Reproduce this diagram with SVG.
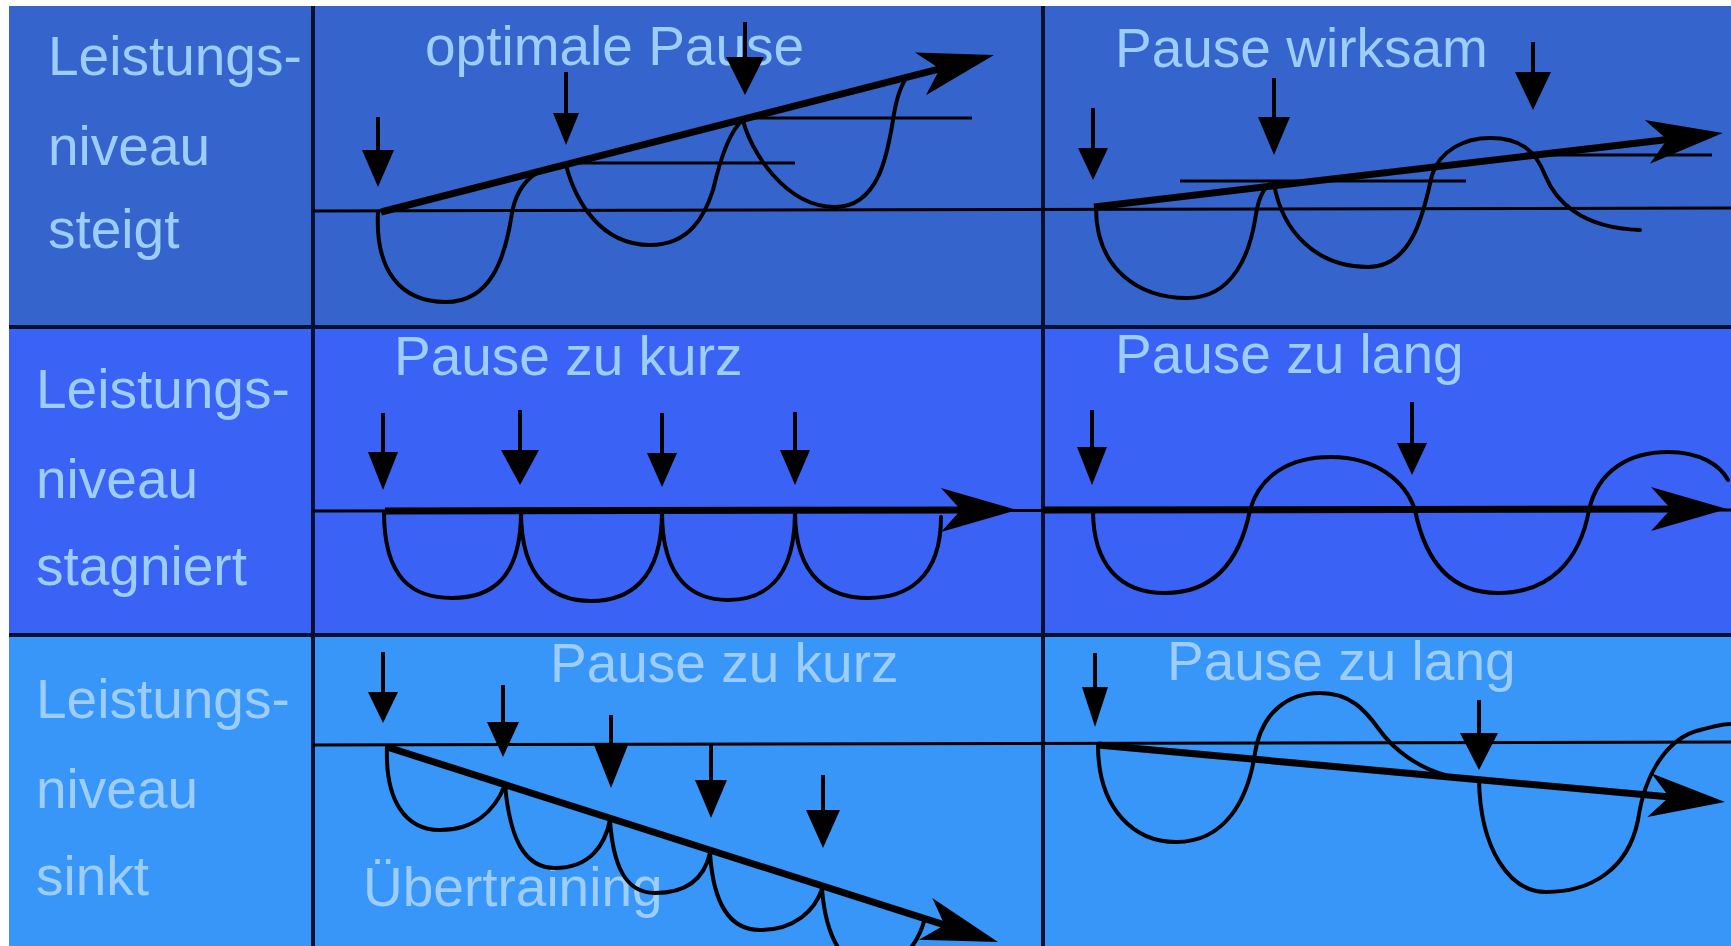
<svg xmlns="http://www.w3.org/2000/svg" width="1731" height="946" viewBox="0 0 1731 946">
<defs>
<marker id="dart" markerUnits="userSpaceOnUse" viewBox="-80 -26 84 52" markerWidth="84" markerHeight="52" refX="-30" refY="0" orient="auto">
<path d="M0,0 L-76,-22 L-56,0 L-76,22 Z" fill="#000"/>
</marker>
</defs>
<style>
.lbl{font-family:"Liberation Sans",Arial,sans-serif;font-size:55px;fill:#9ccdfb}
.div{stroke:#0a1030;stroke-width:4;fill:none}
.base{stroke:#000;stroke-width:3;fill:none}
.trend{stroke:#000;stroke-width:7;fill:none;marker-end:url(#dart)}
.curve{stroke:#000;stroke-width:4;fill:none;stroke-linecap:round}
.shaft{stroke:#000;stroke-width:4}
.head{fill:#000}
</style>
<rect width="1731" height="946" fill="#fff"/>
<g id="rows">
<rect x="9" y="6" width="1722" height="321" fill="#3565cc"/>
<rect x="9" y="327" width="1722" height="308" fill="#3a62f5"/>
<rect x="9" y="635" width="1722" height="311" fill="#3796f8"/>
</g>
<g id="grid">
<line class="div" x1="9" y1="327" x2="1731" y2="327"/>
<line class="div" x1="9" y1="635" x2="1731" y2="635"/>
<line class="div" x1="313" y1="6" x2="313" y2="946"/>
<line class="div" x1="1043" y1="6" x2="1043" y2="946"/>
</g>
<g id="labels">
<text class="lbl" x="48" y="75">Leistungs-</text>
<text class="lbl" x="48" y="165">niveau</text>
<text class="lbl" x="48" y="248">steigt</text>
<text class="lbl" x="36" y="408">Leistungs-</text>
<text class="lbl" x="36" y="498">niveau</text>
<text class="lbl" x="36" y="585">stagniert</text>
<text class="lbl" x="36" y="718">Leistungs-</text>
<text class="lbl" x="36" y="808">niveau</text>
<text class="lbl" x="36" y="895">sinkt</text>
</g>
<g id="titles">
<text class="lbl" x="425" y="65">optimale Pause</text>
<text class="lbl" x="1115" y="67">Pause wirksam</text>
<text class="lbl" x="394" y="375">Pause zu kurz</text>
<text class="lbl" x="1115" y="373">Pause zu lang</text>
<text class="lbl" x="550" y="682">Pause zu kurz</text>
<text class="lbl" x="1167" y="680">Pause zu lang</text>
<text class="lbl" x="363" y="906">Übertraining</text>
</g>
<g id="connectors">
<!-- baselines -->
<line class="base" x1="313" y1="211" x2="1731" y2="208"/>
<line class="base" x1="568" y1="163" x2="795" y2="163"/>
<line class="base" x1="743" y1="118" x2="972" y2="118"/>
<line class="base" x1="1180" y1="181" x2="1466" y2="181"/>
<line class="base" x1="1535" y1="155" x2="1712" y2="155"/>
<line class="base" x1="313" y1="511" x2="1731" y2="510"/>
<line class="base" x1="313" y1="745" x2="1731" y2="742"/>
<!-- trend arrows -->
<line class="trend" x1="381" y1="212" x2="965" y2="62.4"/>
<line class="trend" x1="1094" y1="207" x2="1693" y2="136.5"/>
<line class="trend" x1="385" y1="511" x2="987" y2="510"/>
<line class="trend" x1="1043" y1="510" x2="1697" y2="509"/>
<line class="trend" x1="387" y1="747" x2="969.4" y2="932.9"/>
<line class="trend" x1="1098" y1="745" x2="1695.1" y2="799.3"/>
<!-- curves -->
<path class="curve" d="M378,212 C375,270 400,302 446,302 C490,302 505,260 512,213 C518,180 540,165 566,165"/>
<path class="curve" d="M566,165 C575,200 600,245 650,245 C690,245 705,215 713,190 C720,160 730,130 743,120"/>
<path class="curve" d="M743,120 C750,150 785,207 835,207 C880,207 888,150 893,120 C896,100 900,88 905,80"/>
<path class="curve" d="M1096,208 C1096,270 1140,298 1187,298 C1235,298 1250,250 1255,220 C1258,200 1262,190 1270,184"/>
<path class="curve" d="M1274,184 C1282,230 1315,267 1368,267 C1415,267 1425,205 1432,175 C1440,150 1465,138 1490,138 C1520,138 1535,150 1545,175 C1555,200 1580,228 1640,230"/>
<path class="curve" d="M384,512 C384,580 414,598 452,598 C490,598 521,580 521,512"/>
<path class="curve" d="M521,512 C521,582 556,601 591,601 C627,601 662,582 662,512"/>
<path class="curve" d="M662,512 C662,582 695,600 728,600 C762,600 795,582 795,512"/>
<path class="curve" d="M795,512 C795,580 832,598 868,598 C905,598 941,580 941,517"/>
<path class="curve" d="M1093,510 C1093,565 1120,593 1165,593 C1215,593 1240,560 1250,510 C1260,475 1290,457 1331,457 C1375,457 1405,480 1415,510 C1425,560 1450,593 1498,593 C1550,593 1580,560 1589,510 C1598,470 1630,452 1668,452 C1700,452 1720,465 1728,480"/>
<path class="curve" d="M387,747 C385,800 405,830 440,830 C475,830 495,810 505,785"/>
<path class="curve" d="M505,785 C510,840 525,868 555,868 C590,868 605,845 610,820"/>
<path class="curve" d="M610,820 C613,865 625,893 655,893 C690,893 705,875 710,853"/>
<path class="curve" d="M710,853 C713,900 728,930 760,930 C795,930 815,910 822,889"/>
<path class="curve" d="M822,889 C826,940 845,968 870,968 C900,968 918,945 925,918"/>
<path class="curve" d="M1098,745 C1098,810 1135,842 1176,842 C1225,842 1248,800 1255,753 C1262,710 1290,693 1320,693 C1350,693 1365,710 1378,728 C1395,752 1420,768 1445,775"/>
<path class="curve" d="M1479,779 C1480,850 1510,892 1546,892 C1590,892 1628,870 1638,820 C1645,770 1670,737 1700,730 C1715,726 1725,724 1730,724"/>
</g>
<g id="pause-markers">
<line class="shaft" x1="378" y1="117" x2="378" y2="152"/><polygon class="head" points="362,150 394,150 378,187"/>
<line class="shaft" x1="566" y1="72" x2="566" y2="115"/><polygon class="head" points="553,113 579,113 566,145"/>
<line class="shaft" x1="745" y1="22" x2="745" y2="59"/><polygon class="head" points="726,57 764,57 745,95"/>
<line class="shaft" x1="1093" y1="108" x2="1093" y2="150"/><polygon class="head" points="1078,148 1108,148 1093,180"/>
<line class="shaft" x1="1274" y1="78" x2="1274" y2="119"/><polygon class="head" points="1258,117 1290,117 1274,155"/>
<line class="shaft" x1="1533" y1="42" x2="1533" y2="74"/><polygon class="head" points="1515,72 1551,72 1533,110"/>
<line class="shaft" x1="383" y1="413" x2="383" y2="454"/><polygon class="head" points="368,452 398,452 383,490"/>
<line class="shaft" x1="520" y1="410" x2="520" y2="452"/><polygon class="head" points="501,450 539,450 520,485"/>
<line class="shaft" x1="662" y1="413" x2="662" y2="455"/><polygon class="head" points="647,453 677,453 662,487"/>
<line class="shaft" x1="795" y1="412" x2="795" y2="452"/><polygon class="head" points="780,450 810,450 795,485"/>
<line class="shaft" x1="1092" y1="410" x2="1092" y2="449"/><polygon class="head" points="1077,447 1107,447 1092,485"/>
<line class="shaft" x1="1412" y1="402" x2="1412" y2="445"/><polygon class="head" points="1397,443 1427,443 1412,475"/>
<line class="shaft" x1="383" y1="652" x2="383" y2="694"/><polygon class="head" points="368,692 398,692 383,723"/>
<line class="shaft" x1="503" y1="685" x2="503" y2="724"/><polygon class="head" points="487,722 519,722 503,757"/>
<line class="shaft" x1="611" y1="715" x2="611" y2="747"/><polygon class="head" points="594,745 628,745 611,788"/>
<line class="shaft" x1="711" y1="745" x2="711" y2="782"/><polygon class="head" points="695,780 727,780 711,818"/>
<line class="shaft" x1="823" y1="775" x2="823" y2="812"/><polygon class="head" points="806,810 840,810 823,848"/>
<line class="shaft" x1="1095" y1="653" x2="1095" y2="689"/><polygon class="head" points="1082,687 1108,687 1095,727"/>
<line class="shaft" x1="1479" y1="700" x2="1479" y2="735"/><polygon class="head" points="1460,733 1498,733 1479,770"/>
</g>
</svg>
